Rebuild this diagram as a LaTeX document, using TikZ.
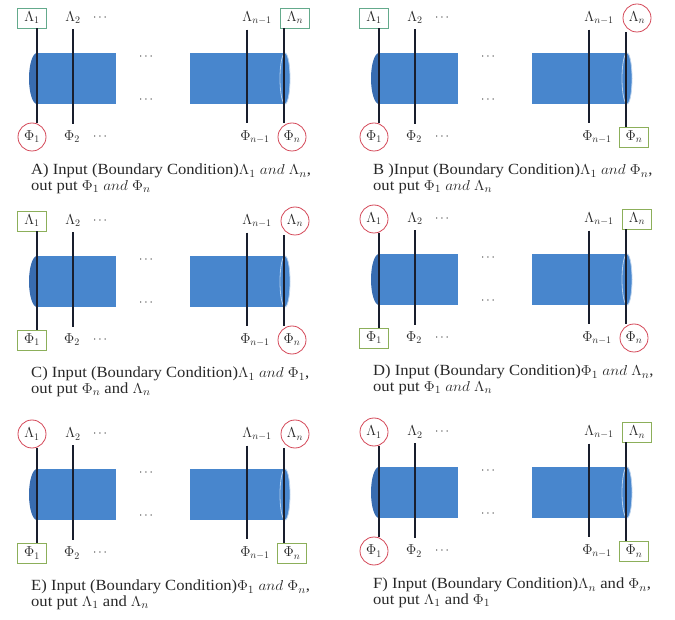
\documentclass[tikz,border=0pt]{standalone}
\usepackage{fontspec}
\setmainfont{Liberation Serif}
\definecolor{slab}{RGB}{72,134,205}
\definecolor{slabdark}{RGB}{56,108,176}
\definecolor{slabrim}{RGB}{185,210,238}
\definecolor{wirec}{RGB}{25,30,45}
\definecolor{redc}{RGB}{212,72,88}
\definecolor{tealc}{RGB}{100,170,140}
\definecolor{greenc}{RGB}{140,175,90}
\definecolor{textc}{RGB}{40,40,40}
\tikzset{
  labtext/.style={font=\fontsize{14.5}{16}\selectfont, inner sep=2pt, text=textc},
  plainlab/.style={labtext},
  rcirc/.style={labtext, circle, draw=redc, line width=0.8pt, minimum size=28pt, inner sep=0pt},
  tbox/.style={labtext, rectangle, draw=tealc, line width=0.8pt, minimum width=29pt, minimum height=20pt},
  gbox/.style={labtext, rectangle, draw=greenc, line width=0.8pt, minimum width=29pt, minimum height=20pt},
  wire/.style={draw=wirec, line width=2.6pt},
  dotsn/.style={font=\fontsize{12}{14}\selectfont, inner sep=1pt, text=textc},
  captext/.style={font=\fontsize{15.5}{15.5}\selectfont, align=left, anchor=north west, inner sep=0pt, text=textc},
}
\newcommand\panel[9]{%
\begin{scope}[shift={(#2,#3)}]
  % left slab with rounded end
  \fill[slabdark] (37,78.5) ellipse[x radius=8, y radius=25.5];
  \fill[slab] (37,53) rectangle (116,104);
  % right slab with end face
  \fill[slab] (190,53) rectangle (285,104);
  \filldraw[fill=slab, draw=slabrim, line width=0.8pt] (285,78.5) ellipse[x radius=5, y radius=25.5];
  % line positions
  \coordinate (#1c1) at (37,0);
  \coordinate (#1c2) at (73,0);
  \coordinate (#1c3) at (247,0);
  \coordinate (#1c4) at (284,0);
  % labels
  \node[#4] (#1L1) at (32,18) {$\Lambda_1$};
  \node[plainlab] (#1L2) at (73,18) {$\Lambda_2$};
  \node[dotsn] (#1d1) at (100,18) {$\cdots$};
  \node[plainlab] (#1Ln1) at (257,18) {$\Lambda_{n-1}$};
  \node[#5] (#1Ln) at (295,18) {$\Lambda_n$};
  \node[#6] (#1P1) at (32,137) {$\Phi_1$};
  \node[plainlab] (#1P2) at (72,137) {$\Phi_2$};
  \node[dotsn] (#1d2) at (100,137) {$\cdots$};
  \node[plainlab] (#1Pn1) at (255,137) {$\Phi_{n-1}$};
  \node[#7] (#1Pn) at (292,137) {$\Phi_n$};
  \node[dotsn] (#1d3) at (146,57) {$\cdots$};
  \node[dotsn] (#1d4) at (146,100) {$\cdots$};
  % wires
  \draw[wire] (#1L1.south -| #1c1) -- (#1P1.north -| #1c1);
  \draw[wire] ([yshift=-3pt]#1L2.south -| #1c2) -- ([yshift=5pt]#1P2.north -| #1c2);
  \draw[wire] ([yshift=-3pt]#1Ln1.south -| #1c3) -- ([yshift=5pt]#1Pn1.north -| #1c3);
  \draw[wire] (#1Ln.south -| #1c4) -- (#1Pn.north -| #1c4);
  % caption
  \node[captext] (#1cap) at (31,164) {\scalebox{1.07}[1]{#8}\\\scalebox{1.07}[1]{#9}};
\end{scope}}
\begin{document}
\begin{tikzpicture}[x=1pt,y=-1pt]
\useasboundingbox (0,0) rectangle (675,620);
\panel{A}{0}{0}{tbox}{tbox}{rcirc}{rcirc}{A) Input (Boundary Condition)$\Lambda_1$ $and$ $\Lambda_n$,}{out put $\Phi_1$ $and$ $\Phi_n$}
\panel{B}{342}{0}{tbox}{rcirc}{rcirc}{gbox}{B )Input (Boundary Condition)$\Lambda_1$ $and$ $\Phi_n$,}{out put $\Phi_1$ $and$ $\Lambda_n$}
\panel{C}{0}{203}{gbox}{rcirc}{gbox}{rcirc}{C) Input (Boundary Condition)$\Lambda_1$ $and$ $\Phi_1$,}{out put $\Phi_n$ and $\Lambda_n$}
\panel{D}{342}{201}{rcirc}{gbox}{gbox}{rcirc}{D) Input (Boundary Condition)$\Phi_1$ $and$ $\Lambda_n$,}{out put $\Phi_1$ $and$ $\Lambda_n$}
\panel{E}{0}{416}{rcirc}{rcirc}{gbox}{gbox}{E) Input (Boundary Condition)$\Phi_1$ $and$ $\Phi_n$,}{out put $\Lambda_1$ and $\Lambda_n$}
\panel{F}{342}{414}{rcirc}{gbox}{rcirc}{gbox}{F) Input (Boundary Condition)$\Lambda_n$ and $\Phi_n$,}{out put $\Lambda_1$ and $\Phi_1$}
\end{tikzpicture}
\end{document}
